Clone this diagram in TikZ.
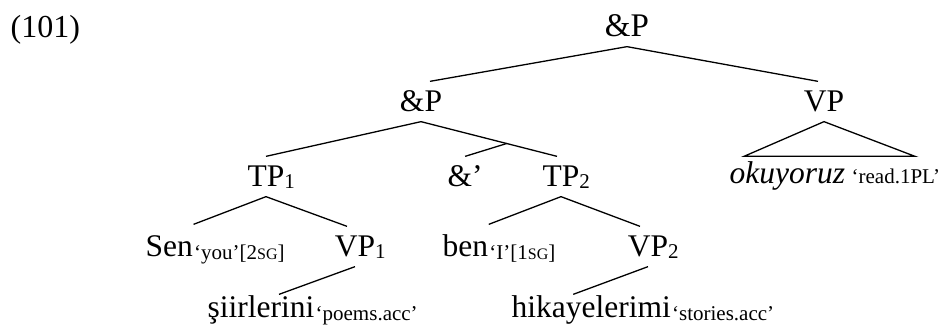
\documentclass[tikz,border=0pt]{standalone}
\usepackage{fontspec}
\setmainfont{Liberation Serif}
\newcommand{\sub}[1]{\rlap{\raisebox{-2pt}{\fontsize{21}{21}\selectfont #1}}}
\newcommand{\smc}[1]{{\fontsize{16}{16}\selectfont #1}}

\begin{document}
\begin{tikzpicture}[x=1pt, y=-1pt, line width=1.3pt,
	cat/.style={inner sep=0, text height=30pt, text depth=9pt, anchor=base, font=\fontsize{31.5}{38}\selectfont},
	word/.style={inner sep=0, text height=32pt, text depth=9pt, anchor=base west, font=\fontsize{31.5}{38}\selectfont},
	low/.style={word, text height=22pt},
	gloss/.style={inner sep=0, anchor=base west, yshift=-3pt, font=\fontsize{21}{25}\selectfont}]

	\useasboundingbox (0,0) rectangle (943,331);

	%example number
	\node[anchor=base west, inner sep=0, font=\fontsize{32}{38}\selectfont] (num) at (10,38) {(101)};

	%category labels
	\node[cat, font=\fontsize{33}{40}\selectfont] (top) at (627,37) {\&P};
	\node[cat] (lap) at (421,112) {\&P};
	\node[cat] (vp) at (824,112) {VP};
	\node[cat] (tp1) at (266,187) {TP\sub{1}};
	\node[cat, anchor=base west] (amp) at (447,187) {\&’};
	\node[cat] (tp2) at (561,187) {TP\sub{2}};
	\node[cat] (vp1) at (355,257) {VP\sub{1}};
	\node[cat] (vp2) at (648,257) {VP\sub{2}};

	%words with glosses
	\node[word] (sen) at (145,257) {Sen};
	\node[gloss] (sengl) at (sen.base east) {‘you’[2\smc{SG}]};
	\node[word] (ben) at (442,257) {ben};
	\node[gloss] (bengl) at (ben.base east) {‘I’[1\smc{SG}]};
	\node[low] (siir) at (207,317) {şiirlerini};
	\node[gloss] (siirgl) at (siir.base east) {‘poems.acc’};
	\node[low] (hika) at (511,317) {hikayelerimi};
	\node[gloss] (hikagl) at (hika.base east) {‘stories.acc’};
	\node[word, text height=27pt] (oku) at (729,184) {\textit{okuyoruz}};
	\node[gloss, yshift=3pt] (okugl) at (851,184) {‘read.1PL’};

	%branches
	\draw (top.south) -- ([xshift=9pt]lap.north);
	\draw (top.south) -- ([xshift=-6pt]vp.north);
	\draw (lap.south) -- (tp1.north);
	\draw (lap.south) -- ([xshift=-4pt]tp2.north) coordinate[pos=0.63] (bar);
	\draw (bar) -- (amp.north);
	\draw (tp1.south) -- (sen.north east);
	\draw (tp1.south) -- ([xshift=-8pt]vp1.north);
	\draw (vp1.south) -- ([xshift=18pt]siir.north);
	\draw (tp2.south) -- (ben.north east);
	\draw (tp2.south) -- ([xshift=-8pt]vp2.north);
	\draw (vp2.south) -- ([xshift=-18pt]hika.north);

	%triangle over okuyoruz
	\draw (vp.south) -- ([xshift=15pt]oku.north west) -- ([xshift=186pt]oku.north west) -- cycle;

\end{tikzpicture}
\end{document}
